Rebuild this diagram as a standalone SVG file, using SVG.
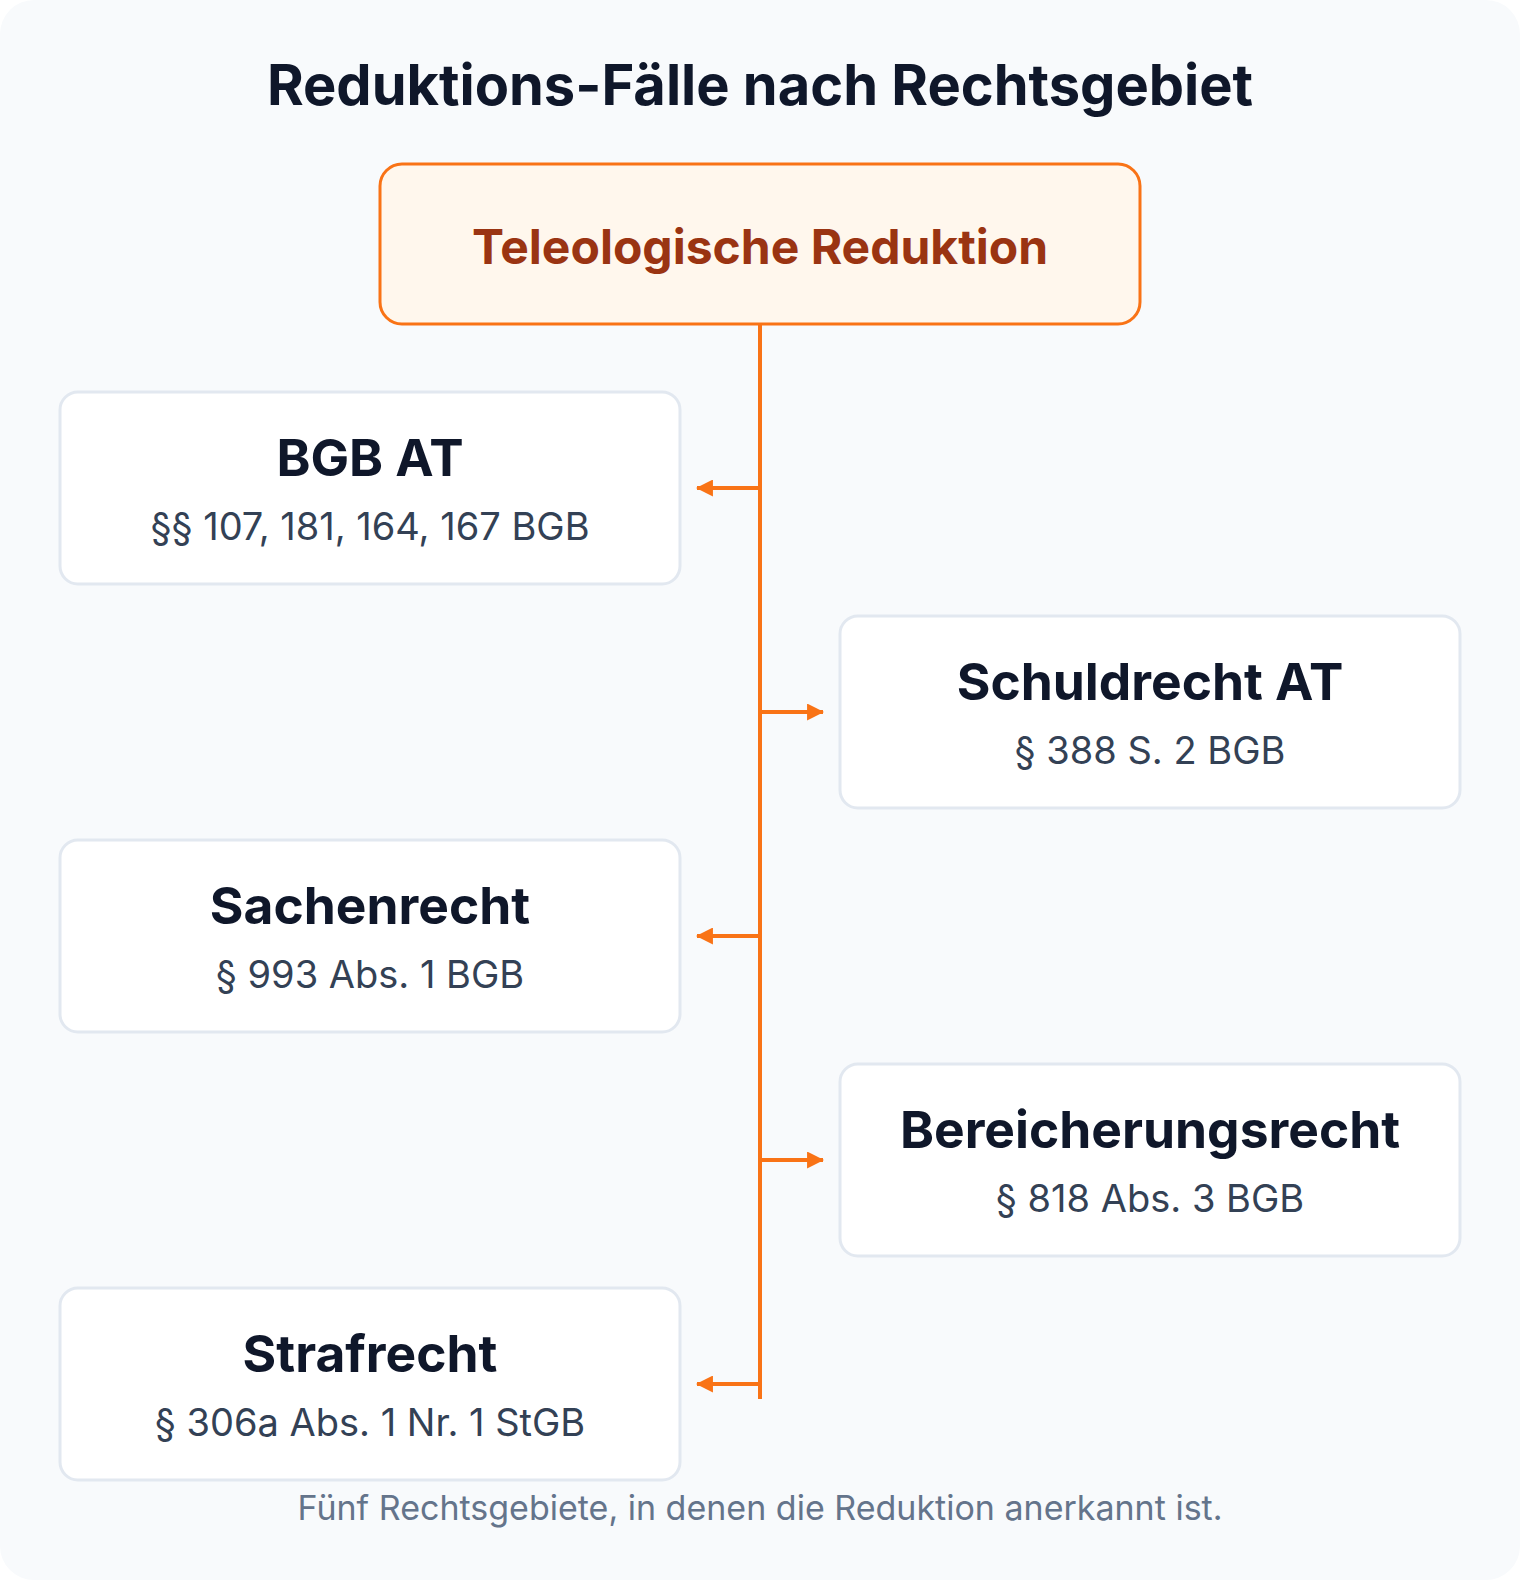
<svg xmlns="http://www.w3.org/2000/svg" width="1520" height="1580" viewBox="0 0 1520 1580">
<style>
.t{font-family:Inter,"Noto Sans","DejaVu Sans",sans-serif;text-anchor:middle}
.title{font-size:56px;font-weight:700;fill:#0f172a}
.root{font-size:48px;font-weight:700;fill:#9a3412}
.nt{font-size:51.5px;font-weight:700;fill:#0f172a}
.ns{font-size:38px;font-weight:400;fill:#334155}
.cap{font-size:34px;fill:#64748b}
.box{fill:#ffffff;stroke:#e2e8f0;stroke-width:3}
.conn{stroke:#f97316;stroke-width:4;fill:none}
</style>
<defs>
<marker id="ah" viewBox="0 0 16 16" refX="15" refY="8" markerWidth="17" markerHeight="17" markerUnits="userSpaceOnUse" orient="auto">
<path d="M0,0 L16,8 L0,16 Z" fill="#f97316"/>
</marker>
</defs>
<rect x="0" y="0" width="1520" height="1580" fill="#ffffff"/>
<rect x="0" y="0" width="1520" height="1580" rx="34" fill="#f8fafc"/>
<text class="t title" x="760" y="105">Reduktions-Fälle nach Rechtsgebiet</text>
<g id="connectors">
<line class="conn" x1="760" y1="324" x2="760" y2="1399"/>
<line class="conn" x1="760" y1="488" x2="697" y2="488" marker-end="url(#ah)"/>
<line class="conn" x1="760" y1="712" x2="823" y2="712" marker-end="url(#ah)"/>
<line class="conn" x1="760" y1="936" x2="697" y2="936" marker-end="url(#ah)"/>
<line class="conn" x1="760" y1="1160" x2="823" y2="1160" marker-end="url(#ah)"/>
<line class="conn" x1="760" y1="1384" x2="697" y2="1384" marker-end="url(#ah)"/>
</g>
<g id="root">
<rect x="380" y="164" width="760" height="160" rx="22" fill="#fff7ed" stroke="#f97316" stroke-width="3"/>
<text class="t root" x="760" y="264">Teleologische Reduktion</text>
</g>
<g id="bgb-at">
<rect class="box" x="60" y="392" width="620" height="192" rx="18"/>
<text class="t nt" x="370" y="476">BGB AT</text>
<text class="t ns" x="370" y="540">§§ 107, 181, 164, 167 BGB</text>
</g>
<g id="schuldrecht-at">
<rect class="box" x="840" y="616" width="620" height="192" rx="18"/>
<text class="t nt" x="1150" y="700">Schuldrecht AT</text>
<text class="t ns" x="1150" y="764">§ 388 S. 2 BGB</text>
</g>
<g id="sachenrecht">
<rect class="box" x="60" y="840" width="620" height="192" rx="18"/>
<text class="t nt" x="370" y="924">Sachenrecht</text>
<text class="t ns" x="370" y="988">§ 993 Abs. 1 BGB</text>
</g>
<g id="bereicherungsrecht">
<rect class="box" x="840" y="1064" width="620" height="192" rx="18"/>
<text class="t nt" x="1150" y="1148">Bereicherungsrecht</text>
<text class="t ns" x="1150" y="1212">§ 818 Abs. 3 BGB</text>
</g>
<g id="strafrecht">
<rect class="box" x="60" y="1288" width="620" height="192" rx="18"/>
<text class="t nt" x="370" y="1372">Strafrecht</text>
<text class="t ns" x="370" y="1436">§ 306a Abs. 1 Nr. 1 StGB</text>
</g>
<text class="t cap" x="760" y="1520">Fünf Rechtsgebiete, in denen die Reduktion anerkannt ist.</text>
</svg>
